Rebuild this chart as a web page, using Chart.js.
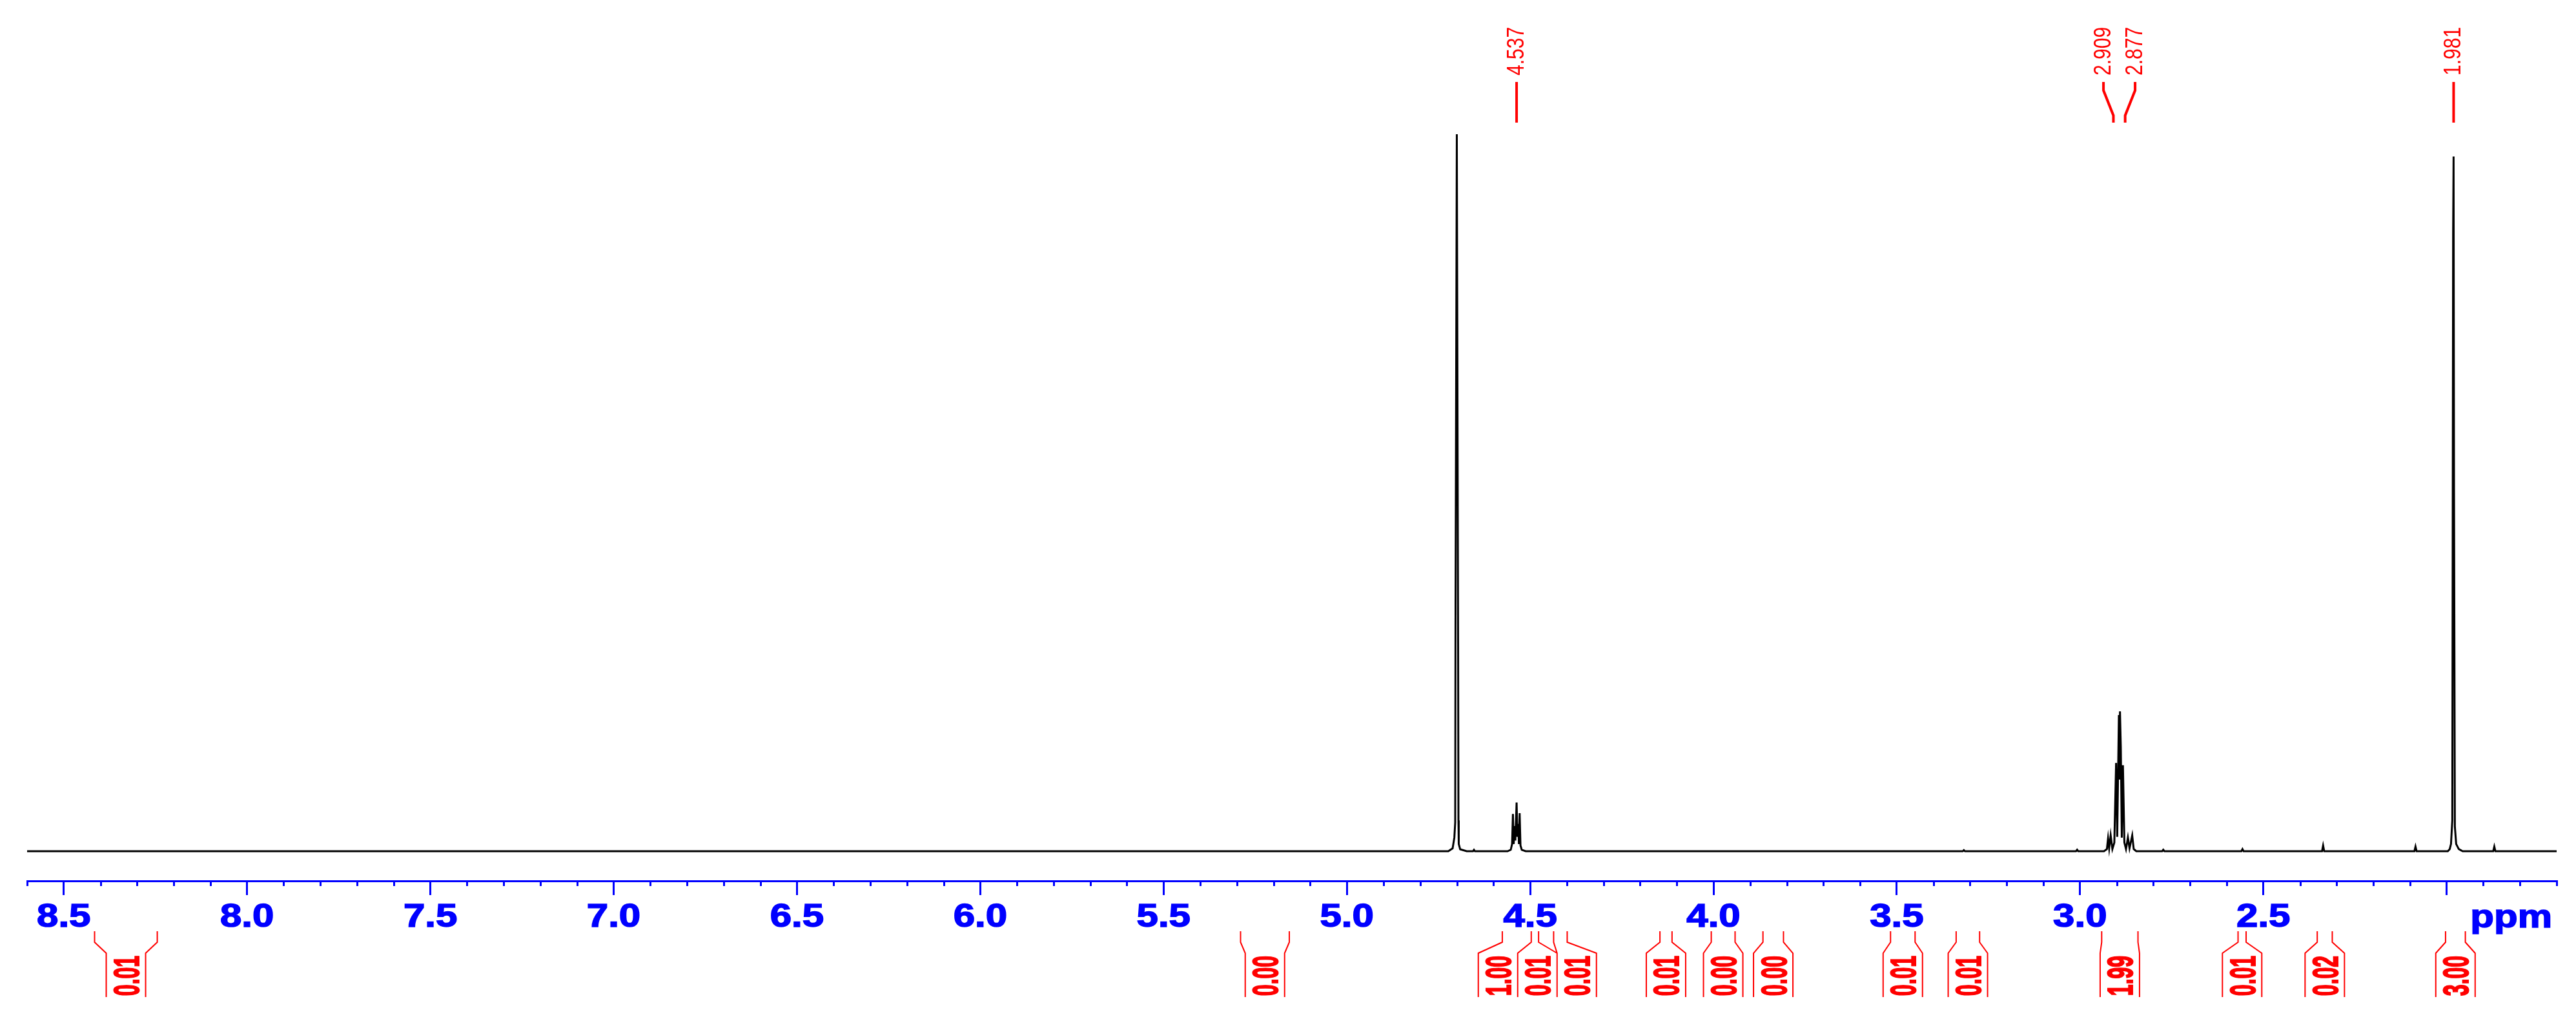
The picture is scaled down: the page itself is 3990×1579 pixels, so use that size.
<!DOCTYPE html>
<html>
<head>
<meta charset="utf-8">
<script src="https://cdn.jsdelivr.net/npm/chart.js@4.4.0/dist/chart.umd.min.js"></script>
<style>
  html, body { margin: 0; padding: 0; background: #fff; }
  canvas { display: block; }
</style>
</head>
<body>
<canvas id="c" width="3990" height="1579"></canvas>
<script>
// 1H spectrum, chemical shift (ppm) and intensity
const spectrumPpm = [
  8.6,
  4.7233, 4.7115, 4.7068, 4.7045, 4.7036, 4.7001, 4.6965, 4.6956, 4.6948, 4.6909, 4.6733,
  4.6560, 4.6533, 4.6506,
  4.5617, 4.5529, 4.5493, 4.5470, 4.5449, 4.5428, 4.5405, 4.5370, 4.5347, 4.5326, 4.5307, 4.5287, 4.5264, 4.5229, 4.5123,
  3.320, 3.317, 3.314,
  3.011, 3.008, 3.005,
  2.9347, 2.9268, 2.9236, 2.9206, 2.9165, 2.9118, 2.9065, 2.9017, 2.8986, 2.8941, 2.8927, 2.8911,
  2.8888, 2.8862, 2.8830, 2.8791, 2.8747, 2.8695, 2.8651, 2.8577, 2.8536, 2.8466,
  2.776, 2.773, 2.770,
  2.560, 2.557, 2.554,
  2.340, 2.337, 2.334,
  2.088, 2.085, 2.082,
  1.9969, 1.9916, 1.9881, 1.9846, 1.9823, 1.9811, 1.9799, 1.9776, 1.9740, 1.9670, 1.9564,
  1.873, 1.870, 1.867,
  1.7
];
const spectrumInt = [
  0,
  0, 0.4, 1.9, 4.0, 33.2, 100, 29.0, 4.3, 1.0, 0.27, 0,
  0, 0.2, 0,
  0, 0.2, 1.0, 5.2, 1.0, 3.5, 1.5, 6.8, 2.0, 3.8, 1.0, 5.3, 0.8, 0.2, 0,
  0, 0.15, 0,
  0, 0.2, 0,
  0, 0.3, 1.8, 0.4, 2.2, 0.3, 1.2, 12.3, 2.0, 19.0, 10, 19.5,
  14.5, 1.9, 12.0, 1.2, 0.3, 1.9, 0.4, 2.2, 0.3, 0,
  0, 0.2, 0,
  0, 0.3, 0,
  0, 0.8, 0,
  0, 0.65, 0,
  0, 0.3, 1.0, 4.3, 86.3, 96.9, 50, 3.4, 1.0, 0.3, 0,
  0, 0.65, 0,
  0
];

// axis: tick marks at every major value, label only where one is given
const majorTicks = [8.5, 8.0, 7.5, 7.0, 6.5, 6.0, 5.5, 5.0, 4.5, 4.0, 3.5, 3.0, 2.5, 2.0];
const tickLabels = ['8.5', '8.0', '7.5', '7.0', '6.5', '6.0', '5.5', '5.0', '4.5', '4.0', '3.5', '3.0', '2.5', ''];
const axisUnit = 'ppm';

// peak picking
const peakPpm = [4.537, 2.909, 2.877, 1.981];
const peakText = ['4.537', '2.909', '2.877', '1.981'];

// integrals (from / to in ppm) and their values
const intFrom = [8.416, 5.290, 4.576, 4.497, 4.436, 4.146, 4.006, 3.865, 3.517, 3.338, 2.941, 2.569, 2.353, 2.003];
const intTo   = [8.245, 5.157, 4.497, 4.477, 4.399, 4.113, 3.941, 3.809, 3.450, 3.274, 2.842, 2.547, 2.312, 1.949];
const intText = ['0.01', '0.00', '1.00', '0.01', '0.01', '0.01', '0.00', '0.00', '0.01', '0.01', '1.99', '0.01', '0.02', '3.00'];

const BLUE = '#0000ff', RED = '#ff0000';

// push overlapping labels apart, keeping each group centred on its mean
function spread(pos, gap) {
  const groups = [];
  pos.forEach((x, i) => {
    groups.push({ idx: [i], sum: x });
    while (groups.length > 1) {
      const g = groups[groups.length - 1], p = groups[groups.length - 2];
      const pEnd = p.sum / p.idx.length + (p.idx.length - 1) * gap / 2;
      const gStart = g.sum / g.idx.length - (g.idx.length - 1) * gap / 2;
      if (gStart - pEnd < gap) { p.idx = p.idx.concat(g.idx); p.sum += g.sum; groups.pop(); }
      else break;
    }
  });
  const out = [];
  groups.forEach(g => {
    const m = g.sum / g.idx.length;
    g.idx.forEach((i, k) => out[i] = m + (k - (g.idx.length - 1) / 2) * gap);
  });
  return out;
}

// text stretched sideways, optionally thickened with an outline
function wideText(ctx, text, x, y, k, align, bold) {
  ctx.save();
  ctx.translate(x, y);
  ctx.scale(k, 1);
  ctx.textAlign = align;
  ctx.textBaseline = 'alphabetic';
  ctx.fillText(text, 0, 0);
  if (bold) { ctx.lineWidth = bold; ctx.strokeText(text, 0, 0); }
  ctx.restore();
}
function upText(ctx, text, x, y, k, align, bold) {
  ctx.save();
  ctx.translate(x, y);
  ctx.rotate(-Math.PI / 2);
  ctx.scale(1, k);
  ctx.textAlign = align;
  ctx.textBaseline = 'alphabetic';
  ctx.fillText(text, 0, 0);
  if (bold) { ctx.lineWidth = bold; ctx.strokeText(text, 0, 0); }
  ctx.restore();
}

const nmrDecor = {
  id: 'nmrDecor',
  afterDraw(chart) {
    const ctx = chart.ctx, xs = chart.scales.x;
    const axisY = chart.chartArea.bottom;
    ctx.save();

    // minor ticks every 0.1 ppm
    ctx.strokeStyle = BLUE;
    ctx.lineWidth = 3;
    ctx.beginPath();
    for (let v = 86; v >= 17; v--) {
      if (v % 5 === 0) continue;
      const x = Math.round(xs.getPixelForValue(v / 10)) + 0.5;
      ctx.moveTo(x, axisY);
      ctx.lineTo(x, axisY + 8);
    }
    ctx.stroke();

    // tick labels + unit
    ctx.fillStyle = BLUE;
    ctx.font = 'bold 50px "Liberation Sans", Arial, sans-serif';
    majorTicks.forEach((v, i) => {
      if (tickLabels[i]) wideText(ctx, tickLabels[i], xs.getPixelForValue(v), 1436, 1.2, 'center', 1.5);
    });
    wideText(ctx, axisUnit, 3953, 1437, 1.2, 'right', 1.5);

    // peak labels
    const px = peakPpm.map(v => xs.getPixelForValue(v));
    const lx = spread(px, 49);
    ctx.strokeStyle = RED;
    ctx.fillStyle = RED;
    ctx.lineWidth = 4;
    ctx.beginPath();
    px.forEach((x, i) => {
      ctx.moveTo(lx[i], 127);
      ctx.lineTo(lx[i], 140);
      ctx.lineTo(x, 179);
      ctx.lineTo(x, 190);
    });
    ctx.stroke();
    ctx.font = '30px "Liberation Sans", Arial, sans-serif';
    lx.forEach((x, i) => upText(ctx, peakText[i], x + 11, 117, 1.2, 'left'));

    // integrals
    const ia = intFrom.map(v => xs.getPixelForValue(v));
    const ib = intTo.map(v => xs.getPixelForValue(v));
    const box = spread(ia.map((a, i) => (a + ib[i]) / 2), 61);
    ctx.lineWidth = 2;
    ctx.beginPath();
    box.forEach((c, i) => {
      ctx.moveTo(ia[i], 1443); ctx.lineTo(ia[i], 1460); ctx.lineTo(c - 30.5, 1477); ctx.lineTo(c - 30.5, 1545);
      ctx.moveTo(ib[i], 1443); ctx.lineTo(ib[i], 1460); ctx.lineTo(c + 30.5, 1477); ctx.lineTo(c + 30.5, 1545);
    });
    ctx.stroke();
    ctx.font = 'bold 32px "Liberation Sans", Arial, sans-serif';
    box.forEach((c, i) => upText(ctx, intText[i], c + 20, 1512, 1.72, 'center', 1.2));

    ctx.restore();
  }
};

new Chart(document.getElementById('c'), {
  type: 'line',
  data: {
    datasets: [{
      data: spectrumPpm.map((p, i) => ({ x: p, y: spectrumInt[i] })),
      borderColor: '#000',
      borderWidth: 3,
      pointRadius: 0,
      tension: 0,
      fill: false,
      clip: false
    }]
  },
  options: {
    responsive: false,
    devicePixelRatio: 1,
    animation: false,
    events: [],
    layout: { padding: { left: 42, right: 30, top: 208, bottom: 192 } },
    plugins: { legend: { display: false }, tooltip: { enabled: false } },
    scales: {
      x: {
        type: 'linear',
        reverse: true,
        min: 1.7,
        max: 8.6,
        afterBuildTicks: s => { s.ticks = majorTicks.map(v => ({ value: v })); },
        ticks: { display: false },
        grid: { display: true, drawOnChartArea: false, drawTicks: true, tickLength: 22, tickWidth: 3, tickColor: BLUE, color: BLUE, lineWidth: 3 },
        border: { display: true, color: BLUE, width: 3 }
      },
      y: { display: false, min: -4.14, max: 100 }
    }
  },
  plugins: [nmrDecor]
});
</script>
</body>
</html>
